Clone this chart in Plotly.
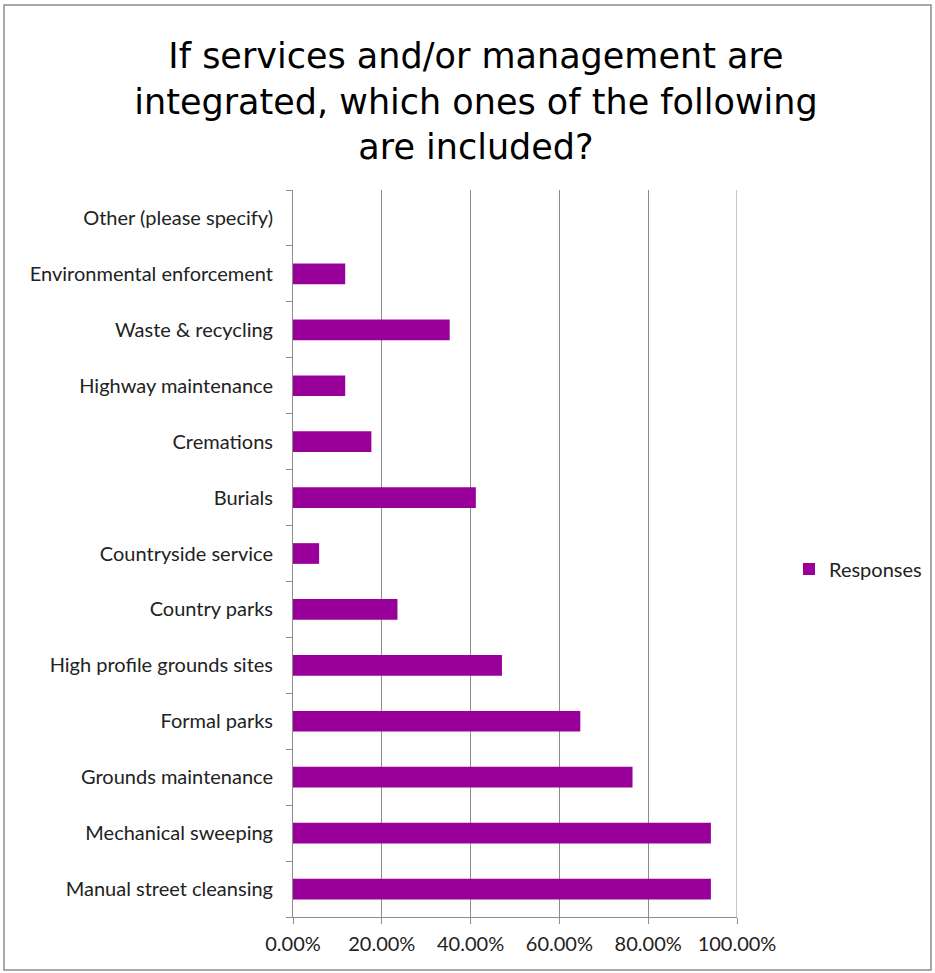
import numpy as np
import plotly.graph_objects as go

categories = [
    "Manual street cleansing",
    "Mechanical sweeping",
    "Grounds maintenance",
    "Formal parks",
    "High profile grounds sites",
    "Country parks",
    "Countryside service",
    "Burials",
    "Cremations",
    "Highway maintenance",
    "Waste & recycling",
    "Environmental enforcement",
    "Other (please specify)",
]
responses_pct = [94.12, 94.12, 76.47, 64.71, 47.06, 23.53, 5.88, 41.18, 17.65, 11.76, 35.29, 11.76, 0.0]
x_ticks = [0, 0.2, 0.4, 0.6, 0.8, 1.0]

W, H = 935, 973
L, R, T, B = 293, 737, 190, 917

fig = go.Figure()
fig.add_trace(go.Bar(
    y=categories,
    x=np.array(responses_pct) / 100.0,
    orientation="h",
    name="Responses",
    marker=dict(color="#990099", line=dict(width=0)),
    width=0.37,
))

pw, ph = R - L, B - T
def px(x):
    return (x - L) / pw
def py(y):
    return (B - y) / ph

label_font = dict(family="Lato, Carlito, Calibri", size=20, color="#222222")
grid_color = "#8c8c8c"

fig.update_layout(
    width=W, height=H,
    margin=dict(l=L, r=W - R, t=T, b=H - B, autoexpand=False),
    paper_bgcolor="white",
    plot_bgcolor="white",
    title=dict(
        text="If services and/or management are<br>integrated, which ones of the following<br>are included?",
        x=476 / W, xanchor="center",
        y=1 - 68 / H, yanchor="middle",
        font=dict(family="DejaVu Sans, Liberation Sans, Arial", size=35, color="#000000"),
    ),
    showlegend=True,
    legend=dict(
        x=px(789), xanchor="left", y=py(569), yanchor="middle",
        font=label_font,
        bgcolor="rgba(0,0,0,0)",
        itemwidth=30,
    ),
    xaxis=dict(
        range=[0, 1.0],
        tickvals=x_ticks,
        tickformat=".2%",
        showgrid=True, gridcolor=grid_color, gridwidth=1,
        zeroline=False,
        showline=True, linecolor=grid_color, linewidth=1,
        ticks="outside", ticklen=6, tickcolor=grid_color,
        tickfont=label_font,
        ticklabelstandoff=3,
        fixedrange=True,
    ),
    yaxis=dict(
        type="category",
        categoryorder="array", categoryarray=categories,
        showgrid=False,
        showline=True, linecolor=grid_color, linewidth=1,
        ticks="outside", ticklen=6, tickcolor=grid_color,
        tickson="boundaries",
        tickfont=label_font,
        ticklabelstandoff=15,
        fixedrange=True,
    ),
    shapes=[
        dict(
            type="rect", xref="paper", yref="paper",
            x0=px(4), x1=px(931), y0=py(970), y1=py(5),
            line=dict(color=grid_color, width=1.5),
            fillcolor="rgba(0,0,0,0)", layer="below",
        ),
        dict(
            type="line", xref="x", yref="paper",
            x0=x_ticks[-1], x1=x_ticks[-1], y0=0, y1=1,
            line=dict(color=grid_color, width=1),
            layer="below",
        ),
    ],
    bargap=0.63,
)

fig.write_html("out.html")
